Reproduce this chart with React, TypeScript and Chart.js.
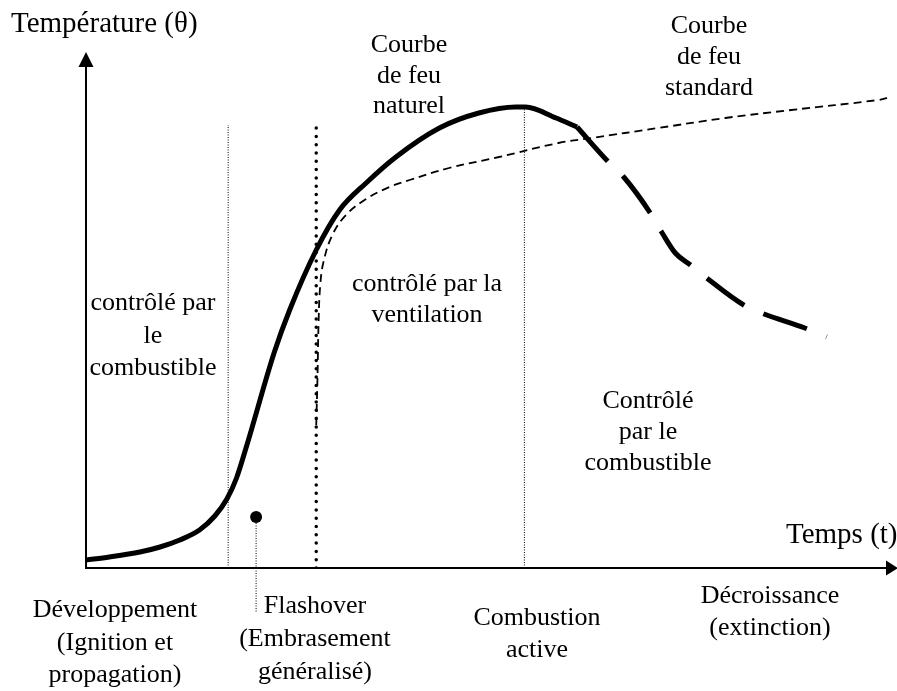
import { useEffect, useRef } from "react";
import { Chart, registerables } from "chart.js";

Chart.register(...registerables);

// ---- Data (schematic units: time 0..100, temperature 0..100) ----
const naturalTime = [0, 2.9, 6.7, 9.2, 11.65, 14.1, 16.0, 17.5, 18.7, 19.95, 23.4, 25.3, 28.6, 31.5, 34.8, 38.5, 43.9, 48.8, 53.4, 54.6, 58.4, 61.0];
const naturalTemp = [1.6, 2.2, 3.2, 4.2, 5.6, 7.6, 10.4, 13.8, 18.0, 24.4, 43.2, 51.6, 63.6, 71.6, 77.0, 82.2, 88.0, 91.0, 92.2, 92.2, 90.0, 88.2];

const decayTime = [61.0, 64.9, 66.8, 70.1, 71.5, 73.2, 75.1, 77.1, 81.7, 83.9, 89.3, 92.0];
const decayTemp = [88.2, 81.2, 78.2, 71.0, 67.2, 63.0, 60.6, 58.0, 52.6, 51.0, 48.0, 46.2];

const standardTime = [28.6, 28.75, 28.9, 29.1, 29.5, 30.6, 32.3, 34.8, 37.7, 40.2, 45.1, 51.3, 58.7, 62.8, 71.1, 79.4, 87.6, 98.4, 100];
const standardTemp = [28.6, 37.6, 49.6, 56.6, 61.2, 66.6, 70.6, 73.8, 76.2, 77.6, 80.0, 82.2, 85.0, 86.0, 88.0, 90.0, 91.6, 93.6, 94.2];

// phase boundaries (time) and their top (temperature)
const boundaryTime = [17.66, 28.6, 54.46];
const boundaryTop = [88.6, 89.0, 92.2];

// flashover marker
const flashoverTime = 21.13;
const flashoverTemp = 10.2;
const flashoverLeaderTop = 9.0;
const flashoverLeaderBottom = -8.8;

// axis titles and annotation texts
const yAxisTitle = "Température (θ)";
const xAxisTitle = "Temps (t)";
const labelNatural = ["Courbe", "de feu", "naturel"];
const labelStandard = ["Courbe", "de feu", "standard"];
const labelFuel1 = ["contrôlé par", "le", "combustible"];
const labelVent = ["contrôlé par la", "ventilation"];
const labelFuel2 = ["Contrôlé", "par le", "combustible"];
const phaseDev = ["Développement", "(Ignition et", "propagation)"];
const phaseFlash = ["Flashover", "(Embrasement", "généralisé)"];
const phaseActive = ["Combustion", "active"];
const phaseDecay = ["Décroissance", "(extinction)"];

// layout for annotations (pixel positions: center x, first baseline y, line step)
const textLayout = [
  { lines: labelNatural, x: 409, y: 52, step: 30.5 },
  { lines: labelStandard, x: 709, y: 33, step: 31 },
  { lines: labelFuel1, x: 153, y: 310, step: 32.5 },
  { lines: labelVent, x: 427, y: 291, step: 31 },
  { lines: labelFuel2, x: 648, y: 408, step: 31 },
  { lines: phaseDev, x: 115, y: 617, step: 32.5 },
  { lines: phaseFlash, x: 315, y: 613, step: 33 },
  { lines: phaseActive, x: 537, y: 625, step: 32 },
  { lines: phaseDecay, x: 770, y: 603, step: 32 },
];

const FONT = '"Liberation Serif", "Times New Roman", serif';

const zip = (xs: number[], ys: number[]) => xs.map((x, i) => ({ x, y: ys[i] }));

const decorPlugin = {
  id: "decor",
  afterDraw(chart: any) {
    const ctx = chart.ctx as CanvasRenderingContext2D;
    const { left, bottom } = chart.chartArea;
    ctx.save();
    ctx.strokeStyle = "#000";
    ctx.fillStyle = "#000";
    ctx.lineWidth = 2;
    // y axis
    ctx.beginPath();
    ctx.moveTo(left, bottom + 1);
    ctx.lineTo(left, 62);
    ctx.stroke();
    ctx.beginPath();
    ctx.moveTo(left, 52);
    ctx.lineTo(left - 7.5, 67);
    ctx.lineTo(left + 7.5, 67);
    ctx.closePath();
    ctx.fill();
    // x axis
    ctx.beginPath();
    ctx.moveTo(left - 1, bottom);
    ctx.lineTo(888, bottom);
    ctx.stroke();
    ctx.beginPath();
    ctx.moveTo(898, bottom);
    ctx.lineTo(886, bottom - 7.5);
    ctx.lineTo(886, bottom + 7.5);
    ctx.closePath();
    ctx.fill();

    // axis titles
    ctx.textBaseline = "alphabetic";
    ctx.font = `29px ${FONT}`;
    ctx.textAlign = "left";
    ctx.fillText(yAxisTitle, 11, 32);
    ctx.fillText(xAxisTitle, 786, 543);

    // annotations
    ctx.font = `26px ${FONT}`;
    ctx.textAlign = "center";
    for (const t of textLayout) {
      t.lines.forEach((line, i) => ctx.fillText(line, t.x, t.y + i * t.step));
    }
    ctx.restore();
  },
};

export default function App() {
  const ref = useRef<HTMLCanvasElement | null>(null);
  useEffect(() => {
    if (!ref.current) return;
    const boundaryStyles = [
      { borderWidth: 1, borderDash: [1, 1.5], borderCapStyle: "butt" },
      { borderWidth: 3.5, borderDash: [0, 8.3], borderCapStyle: "round" },
      { borderWidth: 1, borderDash: [1, 1.5], borderCapStyle: "butt" },
    ];
    const boundaryDatasets = boundaryTime.map((t, i) => ({
      label: "boundary" + i,
      data: [{ x: t, y: 0 }, { x: t, y: boundaryTop[i] }],
      borderColor: "#000",
      pointRadius: 0,
      tension: 0,
      ...boundaryStyles[i],
    }));
    const chart = new Chart(ref.current, {
      type: "line",
      data: {
        datasets: [
          {
            label: "Courbe de feu naturel",
            data: zip(naturalTime, naturalTemp),
            borderColor: "#000",
            borderWidth: 5,
            pointRadius: 0,
            cubicInterpolationMode: "monotone",
            borderCapStyle: "butt",
          },
          {
            label: "Décroissance",
            data: zip(decayTime, decayTemp),
            borderColor: "#000",
            borderWidth: 5,
            borderDash: [46, 21],
            pointRadius: 0,
            cubicInterpolationMode: "monotone",
            borderCapStyle: "butt",
          },
          {
            label: "Courbe de feu standard",
            data: zip(standardTime, standardTemp),
            borderColor: "#000",
            borderWidth: 1.8,
            borderDash: [8, 5],
            pointRadius: 0,
            tension: 0.4,
          },
          ...boundaryDatasets,
          {
            label: "Flashover leader",
            data: [
              { x: flashoverTime, y: flashoverLeaderTop },
              { x: flashoverTime, y: flashoverLeaderBottom },
            ],
            borderColor: "#000",
            borderWidth: 1,
            borderDash: [1, 1.5],
            pointRadius: 0,
            clip: false,
          },
          {
            label: "Flashover",
            data: [{ x: flashoverTime, y: flashoverTemp }],
            showLine: false,
            pointRadius: 6,
            pointBackgroundColor: "#000",
            pointBorderColor: "#000",
            borderWidth: 0,
            clip: false,
          },
        ] as any,
      },
      options: {
        responsive: false,
        animation: false,
        events: [],
        layout: { padding: { left: 86, right: 4, top: 68, bottom: 123 } },
        plugins: { legend: { display: false }, tooltip: { enabled: false } },
        scales: {
          x: { type: "linear", min: 0, max: 100, display: false },
          y: { type: "linear", min: 0, max: 100, display: false },
        },
      },
      plugins: [decorPlugin],
    });
    return () => chart.destroy();
  }, []);
  return (
    <div style={{ position: "absolute", left: 0, top: 0, width: 897, height: 691, background: "#fff" }}>
      <canvas ref={ref} width={897} height={691} style={{ display: "block" }} />
    </div>
  );
}
